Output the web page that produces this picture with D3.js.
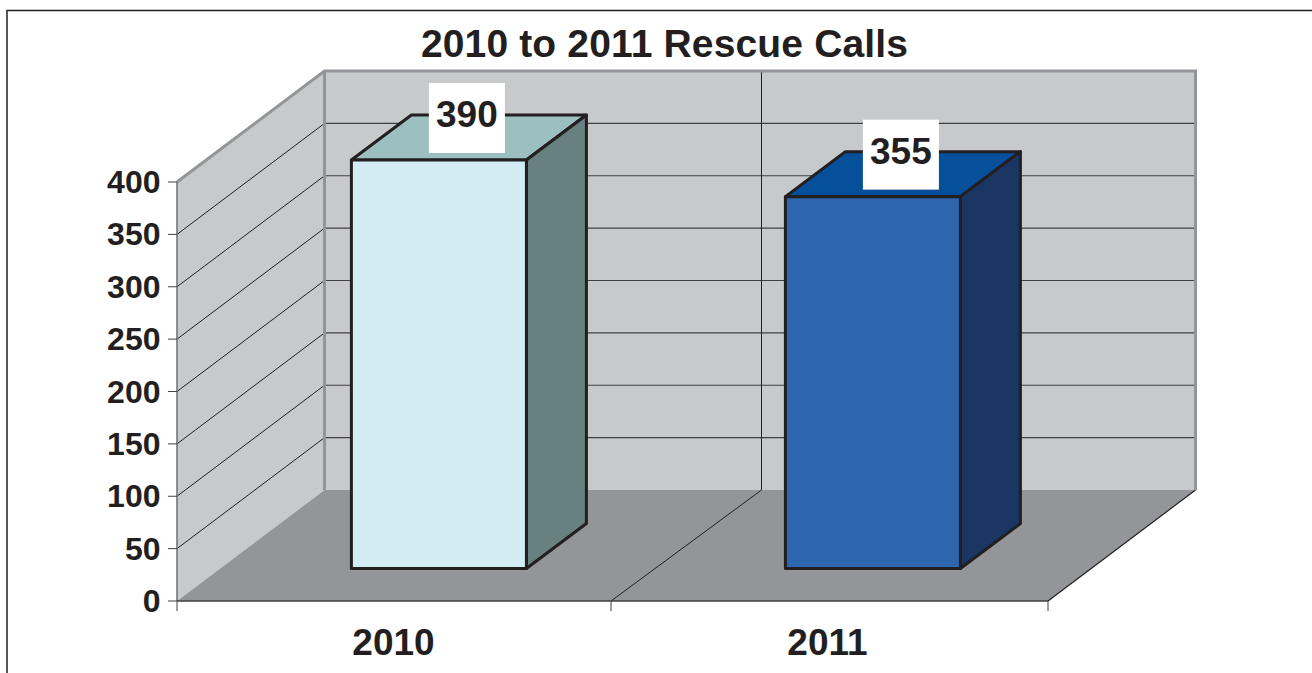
<!DOCTYPE html>
<html>
<head>
<meta charset="utf-8">
<script src="https://d3js.org/d3.v7.min.js"></script>
<style>
  html, body { margin: 0; padding: 0; background: #fff; }
  svg { display: block; }
  text { font-family: "Liberation Sans", Arial, sans-serif; font-weight: bold; fill: #231f20; }
</style>
</head>
<body>
<div id="chart"></div>
<script>
var chartTitle = "2010 to 2011 Rescue Calls";
var categories = ["2010", "2011"];
var calls = [390, 355];
var yTicks = [0, 50, 100, 150, 200, 250, 300, 350, 400];
var frontColors = ["#d3ecf4", "#2e66b0"];
var topColors = ["#9cc0c0", "#064f9b"];
var sideColors = ["#678080", "#1b3663"];

var width = 1312, height = 673;

var svg = d3.select("#chart").append("svg")
  .attr("width", width)
  .attr("height", height);

// frame of the page, runs off the bottom and right
svg.append("path")
  .attr("d", "M7,673V10.5H1312")
  .attr("fill", "none")
  .attr("stroke", "#231f20")
  .attr("stroke-width", 1.5);

// 434 per category, the floor runs a little past the last band
var x = d3.scaleBand().domain(categories).range([177, 1045]);
var y = d3.scaleLinear().domain([0, 400]).range([601, 182]);

// oblique offset of the back wall
var depth = {x: 147.5, y: -111};
// the bars sit part way into the floor
var barLift = -32.5;
var barBack = {x: 60, y: -45};
var barOffset = 174.4, barW = 175;

function poly(pts) { return "M" + pts.map(function(p) { return p.join(","); }).join("L") + "Z"; }

var x0 = x.range()[0], x1 = 1048;
var yTop = y(400), yBot = y(0);

// walls and floor
svg.append("path")
  .attr("d", poly([[x0, yTop], [x0 + depth.x, yTop + depth.y], [x0 + depth.x, yBot + depth.y], [x0, yBot]]))
  .attr("fill", "#c8c9cb");
svg.append("path")
  .attr("d", poly([[x0 + depth.x, yTop + depth.y], [x1 + depth.x, yTop + depth.y], [x1 + depth.x, yBot + depth.y], [x0 + depth.x, yBot + depth.y]]))
  .attr("fill", "#c8c9cb");
svg.append("path")
  .attr("d", poly([[x0, yBot], [x1, yBot], [x1 + depth.x, yBot + depth.y], [x0 + depth.x, yBot + depth.y]]))
  .attr("fill", "#939598");

// gridlines, side wall then back wall
var grid = svg.append("g").attr("stroke", "#231f20").attr("fill", "none");
grid.selectAll(".side").data(yTicks.slice(1, -1)).enter().append("line")
  .attr("x1", x0).attr("y1", y)
  .attr("x2", x0 + depth.x).attr("y2", function(d) { return y(d) + depth.y; })
  .attr("stroke-width", 1);
grid.selectAll(".back").data(yTicks.slice(1, -1)).enter().append("line")
  .attr("x1", x0 + depth.x).attr("y1", function(d) { return y(d) + depth.y; })
  .attr("x2", x1 + depth.x).attr("y2", function(d) { return y(d) + depth.y; })
  .attr("stroke", "#414042").attr("stroke-width", 1.2);

// category divider on back wall and floor
var mid = x(categories[1]);
grid.append("line").attr("x1", mid + depth.x + 3).attr("y1", yTop + depth.y)
  .attr("x2", mid + depth.x + 3).attr("y2", yBot + depth.y).attr("stroke-width", 1);
grid.append("line").attr("x1", mid).attr("y1", yBot)
  .attr("x2", mid + depth.x + 3).attr("y2", yBot + depth.y).attr("stroke-width", 1);
grid.append("line").attr("x1", x1).attr("y1", yBot)
  .attr("x2", x1 + depth.x).attr("y2", yBot + depth.y).attr("stroke-width", 1.2);

// thick gray wall edges
svg.append("path")
  .attr("d", "M" + x0 + "," + yTop + "L" + (x0 + depth.x) + "," + (yTop + depth.y) + "H" + (x1 + depth.x) + "V" + (yBot + depth.y))
  .attr("fill", "none").attr("stroke", "#939598").attr("stroke-width", 3);
svg.append("line")
  .attr("x1", x0 + depth.x).attr("y1", yTop + depth.y)
  .attr("x2", x0 + depth.x).attr("y2", yBot + depth.y)
  .attr("stroke", "#939598").attr("stroke-width", 3);

// axes
svg.append("line").attr("x1", x0).attr("y1", yTop).attr("x2", x0).attr("y2", yBot)
  .attr("stroke", "#6d6e71").attr("stroke-width", 1.5);
svg.append("line").attr("x1", x0).attr("y1", yBot).attr("x2", x1).attr("y2", yBot)
  .attr("stroke", "#414042").attr("stroke-width", 1.5);

var yAxis = svg.append("g");
yAxis.selectAll("line").data(yTicks).enter().append("line")
  .attr("x1", x0 - 9).attr("x2", x0).attr("y1", y).attr("y2", y)
  .attr("stroke", "#414042").attr("stroke-width", 1);
yAxis.selectAll("text").data(yTicks).enter().append("text")
  .attr("x", 160.5).attr("y", function(d) { return y(d) + 11; })
  .attr("text-anchor", "end")
  .style("font-size", "32px")
  .text(function(d) { return d; });

var xTicks = [x0, mid, x1];
svg.selectAll(".xtick").data(xTicks).enter().append("line")
  .attr("x1", function(d) { return d; }).attr("x2", function(d) { return d; })
  .attr("y1", yBot).attr("y2", yBot + 10)
  .attr("stroke", "#414042").attr("stroke-width", 1);

svg.selectAll(".xlabel").data(categories).enter().append("text")
  .attr("x", function(d) { return x(d) + 216.5; })
  .attr("y", 655)
  .attr("text-anchor", "middle")
  .style("font-size", "37px")
  .text(function(d) { return d; });

// bars
var baseY = yBot + barLift;
function barLeft(d) { return x(d) + barOffset; }
function barTop(i) { return y(calls[i]) + barLift; }

var bars = svg.selectAll(".bar").data(categories).enter().append("g")
  .attr("stroke", "#231f20").attr("stroke-width", 3).attr("stroke-linejoin", "round");

bars.append("path")
  .attr("d", function(d, i) {
    var l = barLeft(d), r = l + barW, t = barTop(i);
    return poly([[l, t], [r, t], [r + barBack.x, t + barBack.y], [l + barBack.x, t + barBack.y]]);
  })
  .attr("fill", function(d, i) { return topColors[i]; });
bars.append("path")
  .attr("d", function(d, i) {
    var r = barLeft(d) + barW, t = barTop(i);
    return poly([[r, t], [r + barBack.x, t + barBack.y], [r + barBack.x, baseY + barBack.y], [r, baseY]]);
  })
  .attr("fill", function(d, i) { return sideColors[i]; });
bars.append("path")
  .attr("d", function(d, i) {
    var l = barLeft(d), r = l + barW, t = barTop(i);
    return poly([[l, t], [r, t], [r, baseY], [l, baseY]]);
  })
  .attr("fill", function(d, i) { return frontColors[i]; });

// value labels in their white boxes
var labelW = 76, labelH = 70;
var labels = svg.selectAll(".val").data(categories).enter().append("g");
labels.append("rect")
  .attr("x", function(d) { return barLeft(d) + barW / 2 + 28 - labelW / 2; })
  .attr("y", function(d, i) { return barTop(i) - 77; })
  .attr("width", labelW).attr("height", labelH)
  .attr("fill", "#fff");
labels.append("text")
  .attr("x", function(d) { return barLeft(d) + barW / 2 + 28; })
  .attr("y", function(d, i) { return barTop(i) - 33; })
  .attr("text-anchor", "middle")
  .style("font-size", "37px")
  .text(function(d, i) { return calls[i]; });

svg.append("text")
  .attr("x", 664.5).attr("y", 57)
  .attr("text-anchor", "middle")
  .style("font-size", "39px")
  .style("letter-spacing", "0.15px")
  .text(chartTitle);
</script>
</body>
</html>
